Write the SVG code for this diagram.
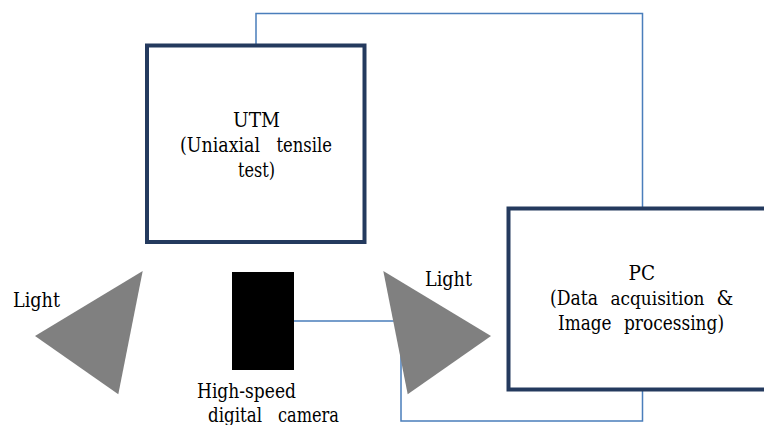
<svg xmlns="http://www.w3.org/2000/svg" width="764" height="425" viewBox="0 0 764 425">
<style>
.box{fill:none;stroke:#243a5e;stroke-width:4}
.conn{fill:none;stroke:#4a7ebb;stroke-width:1.5}
.lamp{fill:#808080}
.t{font-family:'DejaVu Serif',serif;font-size:19.5px;fill:#000}
</style>
<rect width="764" height="425" fill="#fff"/>
<g id="connectors">
<polyline class="conn" points="256,44 256,13.5 642.5,13.5 642.5,207"/>
<polyline class="conn" points="294,321 401,321 401,421 642.5,421 642.5,391"/>
</g>
<g id="utm">
<rect class="box" x="147" y="45.5" width="217.5" height="196.5"/>
<text class="t" x="233" y="127" textLength="47" lengthAdjust="spacingAndGlyphs">UTM</text>
<text class="t" x="180" y="152" textLength="80" lengthAdjust="spacingAndGlyphs">(Uniaxial</text>
<text class="t" x="276.5" y="152" textLength="55.5" lengthAdjust="spacingAndGlyphs">tensile</text>
<text class="t" x="238" y="177" textLength="37" lengthAdjust="spacingAndGlyphs">test)</text>
</g>
<g id="pc">
<rect class="box" x="508.5" y="208.5" width="262" height="181"/>
<text class="t" x="628.5" y="280" textLength="26.5" lengthAdjust="spacingAndGlyphs">PC</text>
<text class="t" x="550" y="305" textLength="48" lengthAdjust="spacingAndGlyphs">(Data</text>
<text class="t" x="610.5" y="305" textLength="94" lengthAdjust="spacingAndGlyphs" style="font-size:18.5px">acquisition</text>
<text class="t" x="716.5" y="305" textLength="16.8" lengthAdjust="spacingAndGlyphs">&amp;</text>
<text class="t" x="558" y="330" textLength="53.5" lengthAdjust="spacingAndGlyphs">Image</text>
<text class="t" x="624" y="330" textLength="100" lengthAdjust="spacingAndGlyphs">processing)</text>
</g>
<g id="light-left">
<polygon class="lamp" points="142.7,271 35,336 118.3,394.3"/>
<text class="t" x="13" y="306.5" textLength="47" lengthAdjust="spacingAndGlyphs">Light</text>
</g>
<g id="light-right">
<polygon class="lamp" points="383.3,271 491,336 407.7,394.3"/>
<text class="t" x="425" y="286" textLength="47" lengthAdjust="spacingAndGlyphs">Light</text>
</g>
<g id="camera">
<rect x="232" y="272" width="62" height="98" fill="#000"/>
<text class="t" x="197" y="398" textLength="99" lengthAdjust="spacingAndGlyphs">High-speed</text>
<text class="t" x="208" y="421.5" textLength="54" lengthAdjust="spacingAndGlyphs">digital</text>
<text class="t" x="278" y="421.5" textLength="61" lengthAdjust="spacingAndGlyphs">camera</text>
</g>
</svg>
